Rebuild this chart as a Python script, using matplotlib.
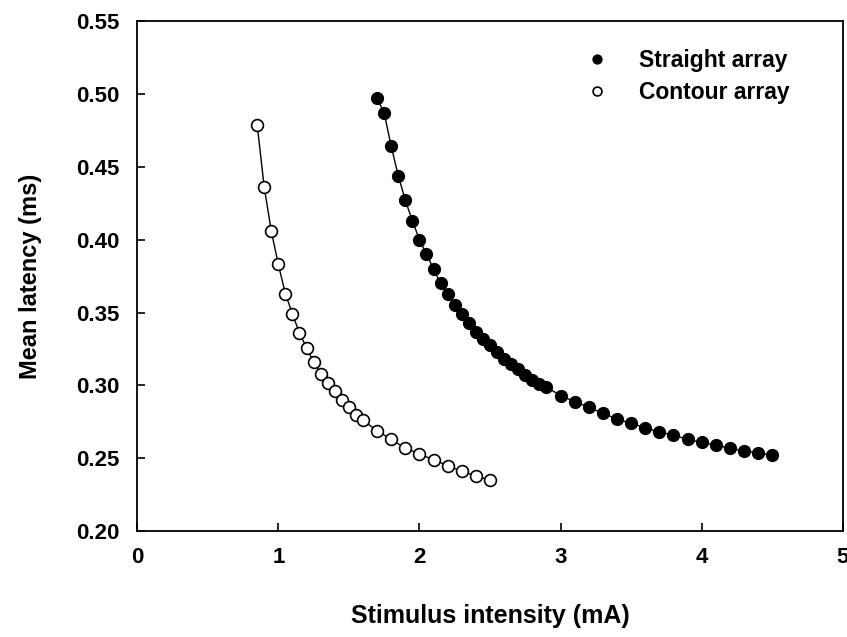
import matplotlib
matplotlib.use("Agg")
import matplotlib.pyplot as plt

plt.rcParams['font.family'] = ['Liberation Sans', 'DejaVu Sans']
plt.rcParams['font.weight'] = 'bold'

# straight array (filled circles)
straight_x = [1.70, 1.75, 1.80, 1.85, 1.90, 1.95, 2.00, 2.05, 2.10, 2.15,
              2.20, 2.25, 2.30, 2.35, 2.40, 2.45, 2.50, 2.55, 2.60, 2.65,
              2.70, 2.75, 2.80, 2.85, 2.90,
              3.0, 3.1, 3.2, 3.3, 3.4, 3.5, 3.6, 3.7, 3.8, 3.9,
              4.0, 4.1, 4.2, 4.3, 4.4, 4.5]
straight_y = [0.497, 0.487, 0.464, 0.444, 0.427, 0.413, 0.400, 0.390, 0.380, 0.370,
              0.363, 0.355, 0.349, 0.343, 0.337, 0.332, 0.328, 0.323, 0.318, 0.315,
              0.311, 0.307, 0.304, 0.301, 0.299,
              0.293, 0.289, 0.285, 0.281, 0.277, 0.274, 0.271, 0.268, 0.266, 0.263,
              0.261, 0.259, 0.257, 0.255, 0.254, 0.252]

# contour array (open circles)
contour_x = [0.85, 0.90, 0.95, 1.00, 1.05, 1.10, 1.15, 1.20, 1.25, 1.30,
             1.35, 1.40, 1.45, 1.50, 1.55, 1.60,
             1.7, 1.8, 1.9, 2.0, 2.1, 2.2, 2.3, 2.4, 2.5]
contour_y = [0.479, 0.436, 0.406, 0.383, 0.363, 0.349, 0.336, 0.326, 0.316, 0.308,
             0.302, 0.296, 0.290, 0.285, 0.280, 0.276,
             0.269, 0.263, 0.257, 0.253, 0.249, 0.245, 0.241, 0.238, 0.235]

fig = plt.figure(figsize=(8.47, 6.37), dpi=100)
ax = fig.add_axes([0.162, 0.166, 0.833, 0.801])

ax.plot(straight_x, straight_y, '-', color='black', lw=1.0, zorder=1)
ax.plot(straight_x, straight_y, 'o', color='black', ms=8.5, mfc='black', mec='black',
        label='Straight array', zorder=2)
ax.plot(contour_x, contour_y, '-', color='black', lw=1.0, zorder=1)
ax.plot(contour_x, contour_y, 'o', color='black', ms=8.5, mfc='white', mec='black',
        mew=1.2, label='Contour array', zorder=2)

ax.set_xlim(0, 5)
ax.set_ylim(0.20, 0.55)
ax.set_xticks([0, 1, 2, 3, 4, 5])
ax.set_yticks([0.20, 0.25, 0.30, 0.35, 0.40, 0.45, 0.50, 0.55])
ax.set_yticklabels(['0.20', '0.25', '0.30', '0.35', '0.40', '0.45', '0.50', '0.55'])
ax.tick_params(direction='in', length=6, width=1.2, labelsize=16)
ax.tick_params(axis='x', pad=11)
ax.tick_params(axis='y', pad=13)
for s in ax.spines.values():
    s.set_linewidth(1.3)

ax.set_xlabel('Stimulus intensity (mA)', fontsize=18, fontweight='bold', labelpad=26)
ax.set_ylabel('Mean latency (ms)', fontsize=17, fontweight='bold', labelpad=24)

leg = ax.legend(loc='upper right', bbox_to_anchor=(0.925, 0.945), frameon=False,
                fontsize=16.5, handletextpad=0.85, borderaxespad=0, borderpad=0,
                labelspacing=0.4, markerscale=0.75)

fig.savefig('out.png', dpi=100)
